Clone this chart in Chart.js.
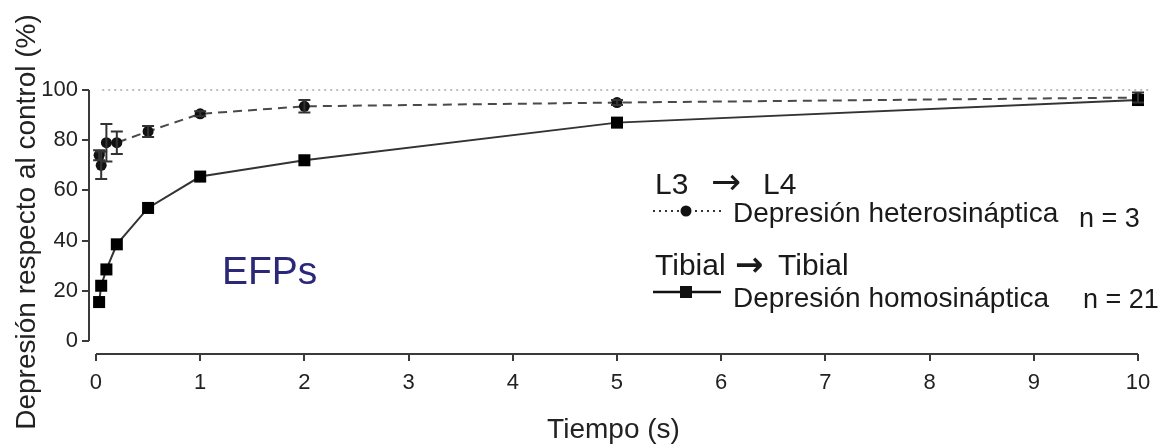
<!DOCTYPE html>
<html>
<head>
<meta charset="utf-8">
<script src="https://cdn.jsdelivr.net/npm/chart.js@4/dist/chart.umd.min.js"></script>
<style>
  html, body { margin: 0; padding: 0; background: #fff; }
  #wrap { width: 1166px; height: 448px; position: relative; }
</style>
</head>
<body>
<div id="wrap"><canvas id="c" width="1166" height="448"></canvas></div>
<script>
// ---- data ----
const timeS = [0.03, 0.05, 0.1, 0.2, 0.5, 1, 2, 5, 10];
const homoSyn = [15.5, 22, 28.5, 38.5, 53, 65.5, 72, 87, 96];
const heteroSyn = [74, 70, 79, 79, 83.5, 90.5, 93.5, 95, 97];
const heteroErr = [2, 5.5, 7.5, 4.5, 2.2, 1, 2.5, 1, 2];
const refX = [0.06, 10.12];
const refY = [100, 100];
const xTicks = [0, 1, 2, 3, 4, 5, 6, 7, 8, 9, 10];
const yTicks = [0, 20, 40, 60, 80, 100];

const FONT = '"Liberation Sans", Arial, sans-serif';
const ARROWFONT = '"DejaVu Sans", sans-serif';
const AXIS = '#3a3a3a';

const toXY = (xs, ys) => xs.map((x, i) => ({ x: x, y: ys[i] }));

const errorBars = {
  id: 'errorBars',
  afterDatasetsDraw(chart) {
    const ctx = chart.ctx;
    const xs = chart.scales.x, ys = chart.scales.y;
    ctx.save();
    ctx.strokeStyle = '#333';
    ctx.lineWidth = 2;
    timeS.forEach((t, i) => {
      const px = xs.getPixelForValue(t);
      const top = ys.getPixelForValue(heteroSyn[i] + heteroErr[i]);
      const bot = ys.getPixelForValue(heteroSyn[i] - heteroErr[i]);
      ctx.beginPath();
      ctx.moveTo(px, top); ctx.lineTo(px, bot);
      ctx.moveTo(px - 6, top); ctx.lineTo(px + 6, top);
      ctx.moveTo(px - 6, bot); ctx.lineTo(px + 6, bot);
      ctx.stroke();
    });
    ctx.restore();
  }
};

const offsetAxes = {
  id: 'offsetAxes',
  afterDraw(chart) {
    const ctx = chart.ctx;
    const xs = chart.scales.x, ys = chart.scales.y;
    const a = chart.chartArea;
    ctx.save();
    ctx.strokeStyle = AXIS;
    ctx.lineWidth = 2;
    ctx.beginPath();
    ctx.moveTo(a.left, ys.getPixelForValue(100));
    ctx.lineTo(a.left, ys.getPixelForValue(0));
    ctx.moveTo(xs.getPixelForValue(0), a.bottom);
    ctx.lineTo(xs.getPixelForValue(10), a.bottom);
    ctx.stroke();

    // annotation text
    ctx.fillStyle = '#2c2878';
    ctx.font = '39px ' + FONT;
    ctx.textBaseline = 'alphabetic';
    ctx.textAlign = 'left';
    ctx.fillText('EFPs', 222, 284);

    // legend
    ctx.fillStyle = '#1a1a1a';
    ctx.font = '30px ' + FONT;
    ctx.fillText('L3', 655, 194);
    ctx.fillText('L4', 763, 194);
    ctx.font = '36px ' + ARROWFONT;
    ctx.fillText('\u2192', 711, 194);

    ctx.strokeStyle = '#333';
    ctx.lineWidth = 2;
    ctx.setLineDash([2, 4]);
    ctx.beginPath(); ctx.moveTo(653, 211); ctx.lineTo(721, 211); ctx.stroke();
    ctx.setLineDash([]);
    ctx.fillStyle = '#111';
    ctx.beginPath(); ctx.arc(686, 211, 5.5, 0, Math.PI * 2); ctx.fill();

    ctx.fillStyle = '#1a1a1a';
    ctx.font = '28px ' + FONT;
    ctx.fillText('Depresi\u00f3n heterosin\u00e1ptica', 733, 222);
    ctx.font = '27px ' + FONT;
    ctx.fillText('n = 3', 1079, 227);

    ctx.font = '30px ' + FONT;
    ctx.fillText('Tibial', 655, 275);
    ctx.fillText('Tibial', 778, 275);
    ctx.font = 'bold 34px ' + ARROWFONT;
    ctx.fillText('\u2192', 735, 276);

    ctx.lineWidth = 2.5;
    ctx.strokeStyle = '#111';
    ctx.beginPath(); ctx.moveTo(653, 292); ctx.lineTo(721, 292); ctx.stroke();
    ctx.fillStyle = '#111';
    ctx.fillRect(680, 286, 12, 12);

    ctx.fillStyle = '#1a1a1a';
    ctx.font = '28px ' + FONT;
    ctx.fillText('Depresi\u00f3n homosin\u00e1ptica', 733, 307);
    ctx.font = '27px ' + FONT;
    ctx.fillText('n = 21', 1083, 308);
    ctx.restore();
  }
};

new Chart(document.getElementById('c'), {
  type: 'scatter',
  data: {
    datasets: [
      {
        label: 'Depresión homosináptica',
        data: toXY(timeS, homoSyn),
        showLine: true,
        borderColor: '#333',
        borderWidth: 2,
        pointStyle: 'rect',
        pointRadius: 8.5,
        pointBackgroundColor: '#000',
        pointBorderWidth: 0,
        clip: false
      },
      {
        label: 'Depresión heterosináptica',
        data: toXY(timeS, heteroSyn),
        showLine: true,
        borderColor: '#4a4a4a',
        borderWidth: 2,
        borderDash: [9, 6],
        pointStyle: 'circle',
        pointRadius: 5.5,
        pointBackgroundColor: '#111',
        pointBorderWidth: 0,
        clip: false
      },
      {
        label: 'control',
        data: toXY(refX, refY),
        showLine: true,
        borderColor: '#bdbdbd',
        borderWidth: 2,
        borderDash: [2, 4],
        pointRadius: 0,
        clip: false
      }
    ]
  },
  options: {
    responsive: false,
    animation: false,
    layout: { padding: { top: 90, right: 28, left: 0, bottom: 0 } },
    plugins: { legend: { display: false }, tooltip: { enabled: false } },
    scales: {
      x: {
        type: 'linear',
        min: -0.067,
        max: 10,
        afterBuildTicks: s => { s.ticks = xTicks.map(v => ({ value: v })); },
        afterFit: s => { s.height = 94; },
        border: { display: false },
        grid: { drawOnChartArea: false, drawTicks: true, tickLength: 7, color: AXIS, lineWidth: 2 },
        ticks: { color: '#222', font: { family: FONT, size: 22 }, padding: 9, maxRotation: 0, autoSkip: false },
        title: { display: true, text: 'Tiempo (s)', color: '#222', font: { family: FONT, size: 28 }, padding: { top: 1, bottom: 1 } }
      },
      y: {
        type: 'linear',
        min: -5.2,
        max: 100,
        afterBuildTicks: s => { s.ticks = yTicks.map(v => ({ value: v })); },
        afterFit: s => { s.width = 89; },
        border: { display: false },
        grid: { drawOnChartArea: false, drawTicks: true, tickLength: 7, color: AXIS, lineWidth: 2 },
        ticks: { color: '#222', font: { family: FONT, size: 22 }, padding: 4, autoSkip: false },
        title: { display: true, text: 'Depresión respecto al control (%)', color: '#222', font: { family: FONT, size: 28 }, padding: { top: 10, bottom: 10 } }
      }
    }
  },
  plugins: [errorBars, offsetAxes]
});
</script>
</body>
</html>
